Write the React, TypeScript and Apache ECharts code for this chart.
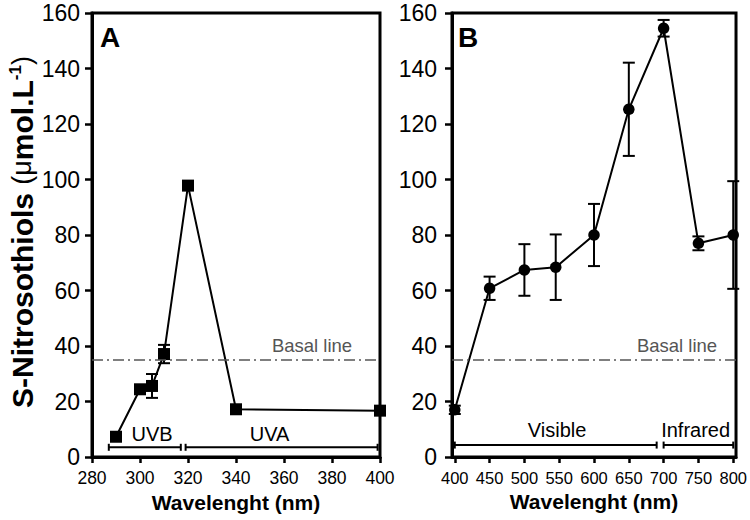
import React, { useEffect, useRef } from "react";
import * as echarts from "echarts";

// ---- Data ----
const wavelengthsA = [290, 300, 305, 310, 320, 340, 400];
const valuesA = [7.3, 24.4, 25.6, 37.1, 97.8, 17.2, 16.7];
const errorsA = [0.8, 1.2, 4.3, 3.3, 1.0, 0.5, 0.5];

const wavelengthsB = [400, 450, 500, 545, 600, 650, 700, 750, 800];
const valuesB = [17.0, 60.8, 67.4, 68.4, 80.0, 125.3, 154.5, 77.0, 80.0];
const errorsB = [1.5, 4.2, 9.3, 11.8, 11.2, 16.8, 3.0, 2.5, 19.4];

const basalLevel = 35;

const bandNamesA = ["UVB", "UVA"];
const bandStartA = [287, 319];
const bandEndA = [317, 399];
const bandLabelAtA = [305, 354];
const bandLevelA = 3.5;

const bandNamesB = ["Visible", "Infrared"];
const bandStartB = [400, 700];
const bandEndB = [690, 800];
const bandLabelAtB = [547, 746];
const bandLevelB = 4.3;

const xTicksB = [400, 450, 500, 550, 600, 650, 700, 750, 800];

const FONT = '"Liberation Sans", Arial, Helvetica, sans-serif';

function errorRender(params: any, api: any) {
  const x = api.value(0);
  const y = api.value(1);
  const e = api.value(2);
  const top = api.coord([x, y + e]);
  const bot = api.coord([x, y - e]);
  const hw = 6;
  const st = { stroke: "#000", lineWidth: 2 };
  return {
    type: "group",
    children: [
      { type: "line", shape: { x1: top[0], y1: top[1], x2: bot[0], y2: bot[1] }, style: st },
      { type: "line", shape: { x1: top[0] - hw, y1: top[1], x2: top[0] + hw, y2: top[1] }, style: st },
      { type: "line", shape: { x1: bot[0] - hw, y1: bot[1], x2: bot[0] + hw, y2: bot[1] }, style: st },
    ],
  };
}

function bandRender(textOffset: number) {
  return (params: any, api: any) => {
    const s = api.value(0);
    const e = api.value(1);
    const y = api.value(2);
    const lx = api.value(3);
    const p1 = api.coord([s, y]);
    const p2 = api.coord([e, y]);
    const pl = api.coord([lx, y]);
    const hh = 3.5;
    const st = { stroke: "#000", lineWidth: 2 };
    const name = api.value(4);
    return {
      type: "group",
      children: [
        { type: "line", shape: { x1: p1[0], y1: p1[1], x2: p2[0], y2: p2[1] }, style: st },
        { type: "line", shape: { x1: p1[0], y1: p1[1] - hh, x2: p1[0], y2: p1[1] + hh }, style: st },
        { type: "line", shape: { x1: p2[0], y1: p2[1] - hh, x2: p2[0], y2: p2[1] + hh }, style: st },
        {
          type: "text",
          style: {
            text: String(name),
            x: pl[0],
            y: p1[1] - textOffset,
            align: "center",
            verticalAlign: "middle",
            fontSize: 20,
            fontFamily: FONT,
            fill: "#000",
          },
        },
      ],
    };
  };
}

function xAxisBase(gridIndex: number) {
  return {
    type: "value" as const,
    gridIndex,
    splitLine: { show: false },
    axisLine: { show: true, onZero: false, lineStyle: { color: "#000", width: 3 } },
    axisTick: { show: true, length: 6, lineStyle: { color: "#000", width: 2.5 } },
    name: "Wavelenght (nm)",
    nameLocation: "middle" as const,
    nameGap: 33,
    nameTextStyle: { fontSize: 21, fontWeight: "bold" as const, color: "#000", fontFamily: FONT },
  };
}

function yAxisBase(gridIndex: number, margin: number) {
  return {
    type: "value" as const,
    gridIndex,
    min: 0,
    max: 160,
    interval: 20,
    splitLine: { show: false },
    axisLine: { show: true, onZero: false, lineStyle: { color: "#000", width: 3 } },
    axisTick: { show: true, length: 7, lineStyle: { color: "#000", width: 2.5 } },
    axisLabel: { fontSize: 23, color: "#000", fontFamily: FONT, margin },
  };
}

export default function App() {
  const ref = useRef<HTMLDivElement>(null);
  useEffect(() => {
    if (!ref.current) return;
    const chart = echarts.init(ref.current, null, { renderer: "svg" });
    const basalLine = {
      symbol: "none",
      silent: true,
      label: { show: false },
      lineStyle: { type: [11, 4, 2, 4], color: "#555", width: 1.5 },
      data: [{ yAxis: basalLevel }],
    };
    const option: any = {
      animation: false,
      backgroundColor: "#fff",
      grid: [
        { left: 92, top: 13, width: 288, height: 444, show: true, borderColor: "#000", borderWidth: 3 },
        { left: 452, top: 13, width: 286, height: 444, show: true, borderColor: "#000", borderWidth: 3 },
      ],
      xAxis: [
        {
          ...xAxisBase(0),
          min: 280,
          max: 400,
          interval: 20,
          axisLabel: { fontSize: 17.5, color: "#000", fontFamily: FONT, margin: 12 },
        },
        {
          ...xAxisBase(1),
          min: 396,
          max: 804,
          axisTick: { show: true, length: 6, customValues: xTicksB, lineStyle: { color: "#000", width: 2.5 } },
          axisLabel: { fontSize: 16.5, color: "#000", fontFamily: FONT, margin: 12, customValues: xTicksB },
        },
      ],
      yAxis: [yAxisBase(0, 12), yAxisBase(1, 15)],
      series: [
        {
          type: "custom",
          xAxisIndex: 0,
          yAxisIndex: 0,
          z: 1,
          renderItem: errorRender,
          data: wavelengthsA.map((x, i) => [x, valuesA[i], errorsA[i]]),
          encode: { x: 0, y: 1 },
        },
        {
          type: "line",
          xAxisIndex: 0,
          yAxisIndex: 0,
          z: 3,
          symbol: "rect",
          symbolSize: 12,
          lineStyle: { color: "#000", width: 2 },
          itemStyle: { color: "#000" },
          data: wavelengthsA.map((x, i) => [x, valuesA[i]]),
          markLine: basalLine,
        },
        {
          type: "custom",
          xAxisIndex: 0,
          yAxisIndex: 0,
          z: 2,
          renderItem: bandRender(13),
          data: bandNamesA.map((n, i) => [bandStartA[i], bandEndA[i], bandLevelA, bandLabelAtA[i], n]),
          dimensions: ["s", "e", "y", "l", { name: "n", type: "ordinal" }],
          encode: { x: [0, 1], y: 2 },
        },
        {
          type: "custom",
          xAxisIndex: 1,
          yAxisIndex: 1,
          z: 1,
          renderItem: errorRender,
          data: wavelengthsB.map((x, i) => [x, valuesB[i], errorsB[i]]),
          encode: { x: 0, y: 1 },
        },
        {
          type: "line",
          xAxisIndex: 1,
          yAxisIndex: 1,
          z: 3,
          symbol: "circle",
          symbolSize: 11.5,
          lineStyle: { color: "#000", width: 2 },
          itemStyle: { color: "#000" },
          data: wavelengthsB.map((x, i) => [x, valuesB[i]]),
          markLine: basalLine,
        },
        {
          type: "custom",
          xAxisIndex: 1,
          yAxisIndex: 1,
          z: 2,
          renderItem: bandRender(15),
          data: bandNamesB.map((n, i) => [bandStartB[i], bandEndB[i], bandLevelB, bandLabelAtB[i], n]),
          dimensions: ["s", "e", "y", "l", { name: "n", type: "ordinal" }],
          encode: { x: [0, 1], y: 2 },
        },
      ],
      graphic: [
        {
          type: "text",
          left: 100,
          top: 23,
          style: { text: "A", fontSize: 28, fontWeight: "bold", fontFamily: FONT, fill: "#000" },
        },
        {
          type: "text",
          left: 458,
          top: 23,
          style: { text: "B", fontSize: 28, fontWeight: "bold", fontFamily: FONT, fill: "#000" },
        },
        {
          type: "text",
          x: 312,
          y: 345,
          style: {
            text: "Basal line",
            fontSize: 18.5,
            fontFamily: FONT,
            fill: "#555",
            align: "center",
            verticalAlign: "middle",
          },
        },
        {
          type: "text",
          x: 677,
          y: 345,
          style: {
            text: "Basal line",
            fontSize: 18.5,
            fontFamily: FONT,
            fill: "#555",
            align: "center",
            verticalAlign: "middle",
          },
        },
        {
          type: "text",
          x: 22,
          y: 232,
          rotation: Math.PI / 2,
          style: {
            text: "{b|S-Nitrosothiols }{n|(\u03bc}{b|mol.L}{s|-1}{n|)}",
            align: "center",
            verticalAlign: "middle",
            fill: "#000",
            rich: {
              b: { fontSize: 30, fontWeight: "bold", fontFamily: FONT, fill: "#000" },
              n: { fontSize: 27, fontFamily: FONT, fill: "#000" },
              s: { fontSize: 17, fontWeight: "bold", fontFamily: FONT, fill: "#000", verticalAlign: "top", padding: [0, 0, 14, 0] },
            },
          },
        },
      ],
    };
    chart.setOption(option);
    return () => chart.dispose();
  }, []);
  return (
    <div
      ref={ref}
      style={{ position: "fixed", left: 0, top: 0, width: 750, height: 520, background: "#fff" }}
    />
  );
}
